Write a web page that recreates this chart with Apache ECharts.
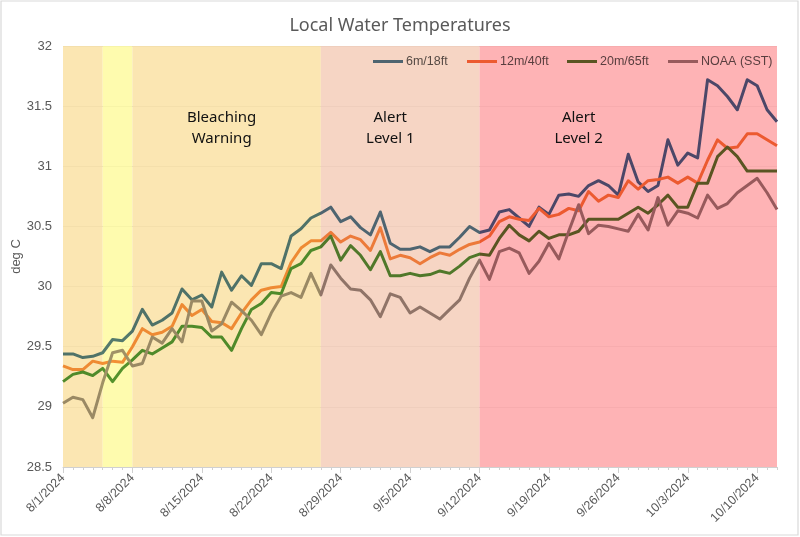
<!DOCTYPE html>
<html>
<head>
<meta charset="utf-8">
<script src="https://cdn.jsdelivr.net/npm/echarts@6/dist/echarts.min.js"></script>
<style>html,body{margin:0;padding:0;background:#fff}#c{width:800px;height:537px}</style>
</head>
<body>
<div id="c"></div>
<script>
// Categories: daily dates 8/1/2024 .. 10/12/2024
const startDate = [2024, 7, 1];
const dayCount = 73;
const dates = [];
for (let i = 0; i < dayCount; i++) {
  const d = new Date(startDate[0], startDate[1], startDate[2] + i);
  dates.push((d.getMonth() + 1) + '/' + d.getDate() + '/' + d.getFullYear());
}

const seriesNames = ['6m/18ft', '12m/40ft', '20m/65ft', 'NOAA (SST)'];

const temp6m = [
  29.44, 29.44, 29.41, 29.42, 29.45, 29.56, 29.55, 29.63, 29.81, 29.68,
  29.72, 29.78, 29.98, 29.89, 29.93, 29.83, 30.12, 29.97, 30.09, 30.01,
  30.19, 30.19, 30.15, 30.42, 30.48, 30.57, 30.61, 30.66, 30.54, 30.58,
  30.49, 30.43, 30.62, 30.36, 30.31, 30.31, 30.33, 30.29, 30.33, 30.33,
  30.41, 30.50, 30.45, 30.47, 30.62, 30.64, 30.57, 30.50, 30.66, 30.60,
  30.76, 30.77, 30.75, 30.84, 30.88, 30.84, 30.76, 31.10, 30.87, 30.79,
  30.84, 31.22, 31.01, 31.11, 31.07, 31.72, 31.67, 31.58, 31.47, 31.72,
  31.67, 31.47, 31.37
];
const temp12m = [
  29.34, 29.31, 29.31, 29.38, 29.36, 29.38, 29.37, 29.50, 29.65, 29.60,
  29.62, 29.67, 29.85, 29.76, 29.81, 29.71, 29.70, 29.65, 29.78, 29.89,
  29.97, 29.99, 30.00, 30.20, 30.32, 30.38, 30.38, 30.45, 30.37, 30.42,
  30.39, 30.30, 30.49, 30.23, 30.26, 30.24, 30.19, 30.24, 30.28, 30.26,
  30.31, 30.35, 30.37, 30.42, 30.54, 30.58, 30.56, 30.55, 30.65, 30.58,
  30.60, 30.65, 30.63, 30.79, 30.71, 30.76, 30.74, 30.88, 30.81, 30.88,
  30.89, 30.91, 30.86, 30.91, 30.86, 31.05, 31.22, 31.15, 31.16, 31.27,
  31.27, 31.22, 31.17
];
const temp20m = [
  29.21, 29.27, 29.29, 29.26, 29.32, 29.21, 29.32, 29.39, 29.47, 29.44,
  29.49, 29.54, 29.67, 29.67, 29.66, 29.58, 29.58, 29.47, 29.65, 29.81,
  29.86, 29.95, 29.94, 30.15, 30.19, 30.30, 30.33, 30.42, 30.22, 30.34,
  30.26, 30.14, 30.29, 30.09, 30.09, 30.11, 30.09, 30.10, 30.13, 30.11,
  30.17, 30.24, 30.27, 30.26, 30.40, 30.51, 30.43, 30.38, 30.46, 30.40,
  30.43, 30.43, 30.46, 30.56, 30.56, 30.56, 30.56, 30.61, 30.66, 30.61,
  30.68, 30.76, 30.66, 30.66, 30.86, 30.86, 31.08, 31.16, 31.08, 30.96,
  30.96, 30.96, 30.96
];
const tempNOAA = [
  29.03, 29.08, 29.06, 28.91, 29.20, 29.45, 29.47, 29.34, 29.36, 29.58,
  29.53, 29.65, 29.54, 29.88, 29.88, 29.63, 29.69, 29.87, 29.80, 29.72,
  29.60, 29.78, 29.92, 29.95, 29.91, 30.11, 29.93, 30.18, 30.07, 29.98,
  29.97, 29.89, 29.75, 29.94, 29.91, 29.78, 29.83, 29.78, 29.73, 29.81,
  29.89, 30.07, 30.22, 30.06, 30.29, 30.32, 30.28, 30.11, 30.21, 30.36,
  30.23, 30.46, 30.68, 30.44, 30.51, 30.50, 30.48, 30.46, 30.60, 30.47,
  30.74, 30.51, 30.63, 30.61, 30.57, 30.76, 30.65, 30.69, 30.78, 30.84,
  30.90, 30.78, 30.64
];

const yTicks = { min: 28.5, max: 32, step: 0.5 };

// Alert bands: start/end are category indices
const bandStart = [0, 4, 7, 26, 42];
const bandEnd   = [4, 7, 26, 42, 72];
const bandText  = ['', '', 'Bleaching\nWarning', 'Alert\nLevel 1', 'Alert\nLevel 2'];
const bandTextAt = [0, 0, 15.8, 32.8, 52.4];
const bandColors = ['#FBE6B2', '#FEFBAE', '#FBE6B2', '#F6D5C4', '#FEB3B5'];
const bandTextValue = 31.32;

// line colour as seen through each band (rows: series; cols: bands)
const lineBandColors = [
  ['#4F7268', '#547A6C', '#4F7268', '#4E6470', '#4C4768'],
  ['#EE8A33', '#F29034', '#EE8A33', '#EC7A3A', '#EC5A30'],
  ['#4F8A2A', '#55922C', '#4F8A2A', '#50782A', '#5A5522'],
  ['#9A8964', '#A09266', '#9A8964', '#907468', '#985A5C']
];
// legend entries sit inside the salmon / red bands
const legendBand = [3, 4, 4, 4];
const legendLeft = [373, 467, 567, 668];
const textGray = '#595959';

function hexToRgb(h) {
  h = h.replace('#', '');
  return [parseInt(h.slice(0, 2), 16), parseInt(h.slice(2, 4), 16), parseInt(h.slice(4, 6), 16)];
}
function multiply(a, b) {
  const x = hexToRgb(a), y = hexToRgb(b);
  return 'rgb(' + x.map((v, i) => Math.round(v * y[i] / 255)).join(',') + ')';
}
const bandAlpha = 0.86;
function bandFill(hex) {
  const c = hexToRgb(hex).map(v => Math.max(0, Math.min(255, Math.round((v - 255 * (1 - bandAlpha)) / bandAlpha))));
  return 'rgba(' + c.join(',') + ',' + bandAlpha + ')';
}
const lastIdx = dayCount - 1;
function bandGradient(k) {
  const stops = [];
  bandStart.forEach((s, i) => {
    const c = lineBandColors[k][i];
    stops.push({ offset: s / lastIdx, color: c });
    stops.push({ offset: bandEnd[i] / lastIdx, color: c });
  });
  return new echarts.graphic.LinearGradient(0, 0, 1, 0, stops);
}

const chart = echarts.init(document.getElementById('c'), null, { renderer: 'canvas' });

const labelFont = '"Liberation Sans", Arial, sans-serif';
const titleFont = '"Noto Sans", "Open Sans", sans-serif';

const lineData = [temp6m, temp12m, temp20m, tempNOAA];

const option = {
  backgroundColor: '#ffffff',
  animation: false,
  title: {
    text: 'Local Water Temperatures',
    left: 'center',
    top: 12,
    textStyle: { fontFamily: titleFont, fontSize: 18, fontWeight: 'normal', color: textGray }
  },
  legend: seriesNames.map((n, k) => ({
    data: [{
      name: n,
      itemStyle: { color: lineBandColors[k][legendBand[k]] },
      lineStyle: { color: lineBandColors[k][legendBand[k]] },
      textStyle: { color: multiply(textGray, bandColors[legendBand[k]]) }
    }],
    left: legendLeft[k],
    top: 55,
    padding: 0,
    itemWidth: 30,
    itemHeight: 3,
    icon: 'rect',
    textStyle: { fontFamily: labelFont, fontSize: 12.5, padding: [0, 0, 0, -2] }
  })),
  grid: { left: 63, right: 23, top: 46, bottom: 70, containLabel: false, outerBoundsMode: 'none' },
  xAxis: [
    {
      type: 'category',
      data: dates,
      boundaryGap: false,
      axisLine: { lineStyle: { color: '#D0D0D0', width: 1 } },
      axisTick: { show: true, interval: 0, length: 3, lineStyle: { color: '#D0D0D0' } },
      axisLabel: {
        interval: 6, rotate: 45, margin: 9,
        fontFamily: labelFont, fontSize: 12.5, color: textGray
      },
      splitLine: { show: false }
    },
    {
      type: 'category',
      data: dates,
      boundaryGap: false,
      position: 'bottom',
      axisLine: { show: false },
      axisTick: { show: true, interval: 6, length: 6, lineStyle: { color: '#D0D0D0' } },
      axisLabel: { show: false },
      splitLine: { show: false }
    }
  ],
  yAxis: {
    type: 'value',
    min: yTicks.min,
    max: yTicks.max,
    interval: yTicks.step,
    name: 'deg C',
    nameLocation: 'middle',
    nameGap: 40,
    nameMoveOverlap: false,
    nameTextStyle: { fontFamily: labelFont, fontSize: 13, color: textGray },
    axisLine: { show: false },
    axisTick: { show: false },
    axisLabel: { fontFamily: labelFont, fontSize: 13, color: textGray, margin: 11 },
    splitLine: { lineStyle: { color: '#CFCFCF', width: 1 } }
  },
  series: [{
    type: 'custom',
    name: 'bands',
    silent: true,
    z: 1,
    data: bandStart.map((s, i) => [s, 30]),
    renderItem: function (params, api) {
      const i = params.dataIndex;
      const p0 = api.coord([bandStart[i], yTicks.max]);
      const p1 = api.coord([bandEnd[i], yTicks.min]);
      const children = [{
        type: 'rect',
        shape: { x: p0[0], y: p0[1], width: p1[0] - p0[0], height: p1[1] - p0[1] },
        style: { fill: bandFill(bandColors[i]) }
      }];
      if (bandText[i]) {
        const t = api.coord([bandTextAt[i], bandTextValue]);
        children.push({
          type: 'text',
          x: t[0], y: t[1],
          style: {
            text: bandText[i], fill: '#111', font: '15px ' + titleFont,
            align: 'center', verticalAlign: 'middle', lineHeight: 21
          }
        });
      }
      return { type: 'group', children: children };
    }
  }].concat(seriesNames.map((n, k) => ({
    name: n,
    type: 'line',
    data: lineData[k],
    showSymbol: false,
    symbol: 'none',
    lineStyle: { width: 3, color: bandGradient(k), join: 'round' },
    itemStyle: { color: lineBandColors[k][legendBand[k]] },
    z: 2
  }))),
  graphic: [{
    type: 'rect',
    shape: { x: 1, y: 1, width: 797, height: 534 },
    style: { fill: 'none', stroke: '#D9D9D9', lineWidth: 1.2 },
    silent: true
  }]
};
chart.setOption(option);
</script>
</body>
</html>
